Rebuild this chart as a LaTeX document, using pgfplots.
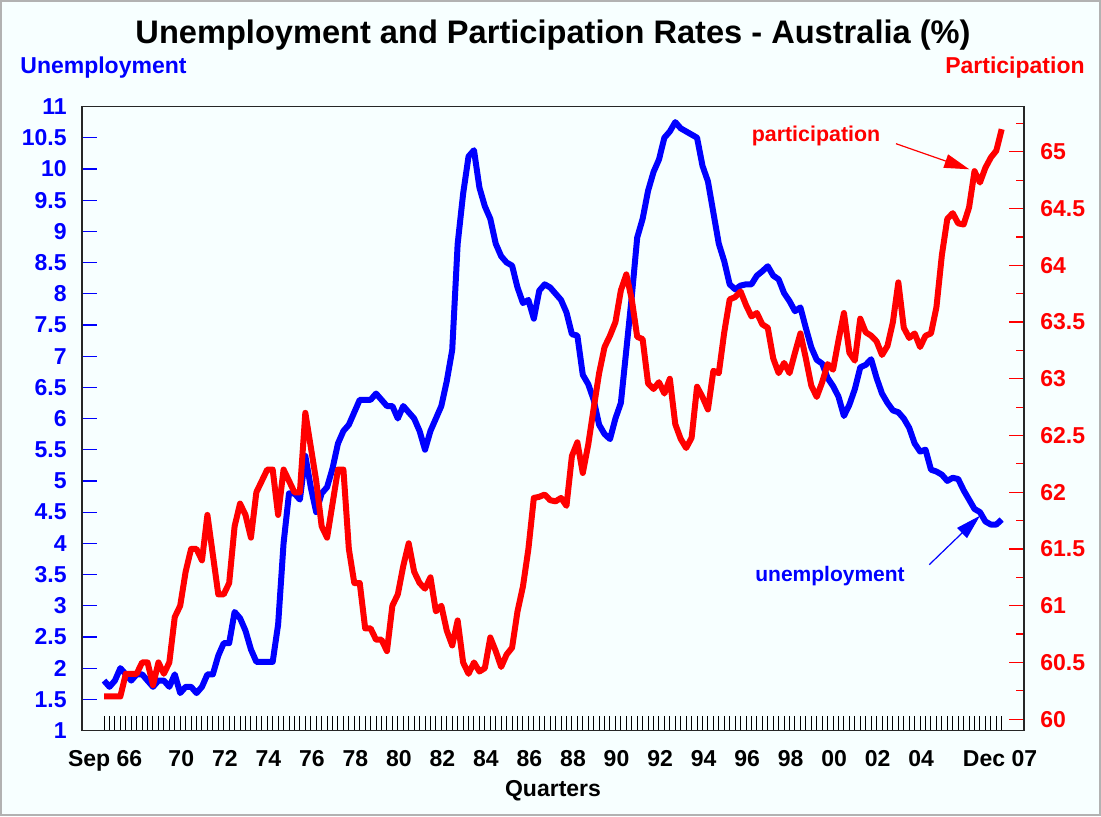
\documentclass[border=0pt]{standalone}
\usepackage{pgfplots}
\pgfplotsset{compat=1.18}
\usepackage{pgfplotstable}
\usepackage{fontspec}
\setmainfont{Liberation Sans}
\usetikzlibrary{arrows.meta}
\definecolor{bg}{RGB}{247,255,255}
\definecolor{ublue}{RGB}{0,0,255}
\definecolor{pred}{RGB}{255,0,0}

\pgfplotstableread{
q u
0 1.8
1 1.7
2 1.8
3 2.0
4 1.9
5 1.8
6 1.9
7 1.9
8 1.8
9 1.7
10 1.8
11 1.8
12 1.7
13 1.9
14 1.6
15 1.7
16 1.7
17 1.6
18 1.7
19 1.9
20 1.9
21 2.2
22 2.4
23 2.4
24 2.9
25 2.8
26 2.6
27 2.3
28 2.1
29 2.1
30 2.1
31 2.1
32 2.7
33 4.0
34 4.8
35 4.8
36 4.7
37 5.4
38 4.9
39 4.5
40 4.8
41 4.9
42 5.2
43 5.6
44 5.8
45 5.9
46 6.1
47 6.3
48 6.3
49 6.3
50 6.4
51 6.3
52 6.2
53 6.2
54 6.0
55 6.2
56 6.1
57 6.0
58 5.8
59 5.5
60 5.8
61 6.0
62 6.2
63 6.6
64 7.1
65 8.8
66 9.6
67 10.2
68 10.3
69 9.7
70 9.4
71 9.2
72 8.8
73 8.6
74 8.5
75 8.45
76 8.1
77 7.85
78 7.9
79 7.6
80 8.05
81 8.15
82 8.1
83 8.0
84 7.9
85 7.7
86 7.35
87 7.33
88 6.7
89 6.55
90 6.3
91 5.9
92 5.75
93 5.67
94 6.0
95 6.25
96 7.1
97 7.95
98 8.9
99 9.2
100 9.65
101 9.95
102 10.15
103 10.5
104 10.6
105 10.75
106 10.65
107 10.6
108 10.55
109 10.5
110 10.05
111 9.8
112 9.3
113 8.8
114 8.52
115 8.15
116 8.07
117 8.13
118 8.15
119 8.15
120 8.29
121 8.36
122 8.44
123 8.29
124 8.23
125 8.01
126 7.88
127 7.72
128 7.78
129 7.45
130 7.14
131 6.94
132 6.88
133 6.65
134 6.52
135 6.35
136 6.04
137 6.22
138 6.47
139 6.82
140 6.86
141 6.95
142 6.65
143 6.4
144 6.25
145 6.13
146 6.1
147 6.0
148 5.85
149 5.6
150 5.47
151 5.5
152 5.18
153 5.15
154 5.1
155 5.0
156 5.05
157 5.03
158 4.85
159 4.7
160 4.55
161 4.5
162 4.35
163 4.3
164 4.3
165 4.38
}\unemp

\pgfplotstableread{
q p
0 60.2
1 60.2
2 60.2
3 60.2
4 60.4
5 60.4
6 60.4
7 60.5
8 60.5
9 60.3
10 60.5
11 60.4
12 60.5
13 60.9
14 61.0
15 61.3
16 61.5
17 61.5
18 61.4
19 61.8
20 61.45
21 61.1
22 61.1
23 61.2
24 61.7
25 61.9
26 61.8
27 61.6
28 62.0
29 62.1
30 62.2
31 62.2
32 61.8
33 62.2
34 62.1
35 62.0
36 62.0
37 62.7
38 62.4
39 62.1
40 61.7
41 61.6
42 61.9
43 62.2
44 62.2
45 61.5
46 61.2
47 61.2
48 60.8
49 60.8
50 60.7
51 60.7
52 60.6
53 61.0
54 61.1
55 61.35
56 61.55
57 61.3
58 61.2
59 61.15
60 61.25
61 60.95
62 61.0
63 60.78
64 60.65
65 60.87
66 60.5
67 60.4
68 60.5
69 60.42
70 60.45
71 60.72
72 60.6
73 60.46
74 60.57
75 60.63
76 60.95
77 61.17
78 61.5
79 61.95
80 61.96
81 61.98
82 61.93
83 61.92
84 61.95
85 61.88
86 62.32
87 62.44
88 62.17
89 62.42
90 62.74
91 63.05
92 63.28
93 63.38
94 63.5
95 63.78
96 63.92
97 63.7
98 63.37
99 63.35
100 62.96
101 62.91
102 62.97
103 62.87
104 63.0
105 62.6
106 62.47
107 62.39
108 62.48
109 62.93
110 62.84
111 62.73
112 63.07
113 63.05
114 63.41
115 63.7
116 63.72
117 63.77
118 63.65
119 63.55
120 63.58
121 63.48
122 63.45
123 63.18
124 63.05
125 63.14
126 63.05
127 63.23
128 63.4
129 63.18
130 62.94
131 62.84
132 62.97
133 63.13
134 63.08
135 63.34
136 63.58
137 63.23
138 63.16
139 63.53
140 63.41
141 63.38
142 63.33
143 63.21
144 63.29
145 63.5
146 63.85
147 63.45
148 63.36
149 63.4
150 63.28
151 63.38
152 63.4
153 63.63
154 64.09
155 64.41
156 64.46
157 64.37
158 64.36
159 64.51
160 64.83
161 64.73
162 64.86
163 64.95
164 65.01
165 65.2
}\partic

\newcommand\lab{\fontsize{11.5}{13}\selectfont\bfseries}

\begin{document}
\begin{tikzpicture}
\useasboundingbox (0,0) rectangle (550.5pt,408pt);
\fill[bg] (0,0) rectangle (550.5pt,408pt);
\draw[gray!60, line width=1pt] (0.5pt,0.5pt) rectangle (550pt,407.5pt);

\begin{axis}[
  at={(41pt,42.75pt)}, anchor=south west,
  scale only axis, width=471pt, height=312pt,
  xmin=-4.05, xmax=169.1, ymin=1, ymax=11,
  xtick={0.2,14.2,22.2,30.2,38.2,46.2,54.2,62.2,70.2,78.2,86.2,94.2,102.2,110.2,118.2,126.2,134.2,142.2,150.2,164.7},
  xticklabels={Sep 66,70,72,74,76,78,80,82,84,86,88,90,92,94,96,98,00,02,04,Dec 07},
  minor xtick={0,...,165},
  every major x tick/.append style={draw=none},
  every minor x tick/.append style={black, line width=0.5pt},
  minor tick length=7.5pt,
  major tick length=7.5pt,
  ytick={1,1.5,...,11},
  every major y tick/.append style={ublue, line width=0.6pt},
  tick align=inside,
  xtick pos=left, ytick pos=left,
  axis line style={black!85, line width=0.75pt},
  /pgf/number format/assume math mode=true,
  yticklabel style={text=ublue, font=\lab, anchor=east, inner sep=0pt, xshift=-7.5pt},
  xticklabel style={text=black, font=\lab, anchor=base, inner sep=0pt, yshift=-18.1pt},
  clip=false,
]
\addplot[ublue, line width=3pt, line join=round] table[x=q, y=u] {\unemp};
\end{axis}

\begin{axis}[
  at={(41pt,42.75pt)}, anchor=south west,
  scale only axis, width=471pt, height=312pt,
  xmin=-4.05, xmax=169.1, ymin=59.9, ymax=65.4,
  hide x axis,
  ytick={60,60.5,...,65},
  minor ytick={60.25,60.75,61.25,61.75,62.25,62.75,63.25,63.75,64.25,64.75,65.25},
  major tick length=7.5pt,
  minor tick length=4pt,
  tick align=inside,
  ytick pos=right, yticklabel pos=right,
  every major y tick/.append style={pred, line width=0.6pt},
  every minor y tick/.append style={pred, line width=0.6pt},
  axis line style={black!85, line width=0.75pt},
  /pgf/number format/assume math mode=true,
  yticklabel style={text=pred, font=\lab, anchor=west, inner sep=0pt, xshift=8pt},
  clip=false,
]
\addplot[pred, line width=3pt, line join=round] table[x=q, y=p] {\partic};
\end{axis}

\node[anchor=base, font=\fontsize{16.3}{18}\selectfont\bfseries] at (276.5pt,386.25pt) {Unemployment and Participation Rates - Australia (\%)};
\node[anchor=base west, inner sep=0pt, text=ublue, font=\lab] at (10pt,371pt) {Unemployment};
\node[anchor=base east, inner sep=0pt, text=pred, font=\lab] at (542.5pt,371pt) {Participation};
\node[anchor=base, inner sep=0pt, font=\lab] at (276.5pt,10pt) {Quarters};
\node[anchor=base, inner sep=0pt, text=pred, font=\fontsize{10.7}{12}\selectfont\bfseries] at (408pt,337.5pt) {participation};
\node[anchor=base, inner sep=0pt, text=ublue, font=\fontsize{10.5}{12}\selectfont\bfseries] at (415pt,117.5pt) {unemployment};
\draw[pred, line width=0.6pt, -{Triangle[length=12.5pt,width=7pt]}] (448pt,336.15pt) -- (484.65pt,323.35pt);
\draw[ublue, line width=0.6pt, -{Triangle[length=12.5pt,width=7pt]}] (464.65pt,125.7pt) -- (490pt,150.15pt);
\end{tikzpicture}
\end{document}
